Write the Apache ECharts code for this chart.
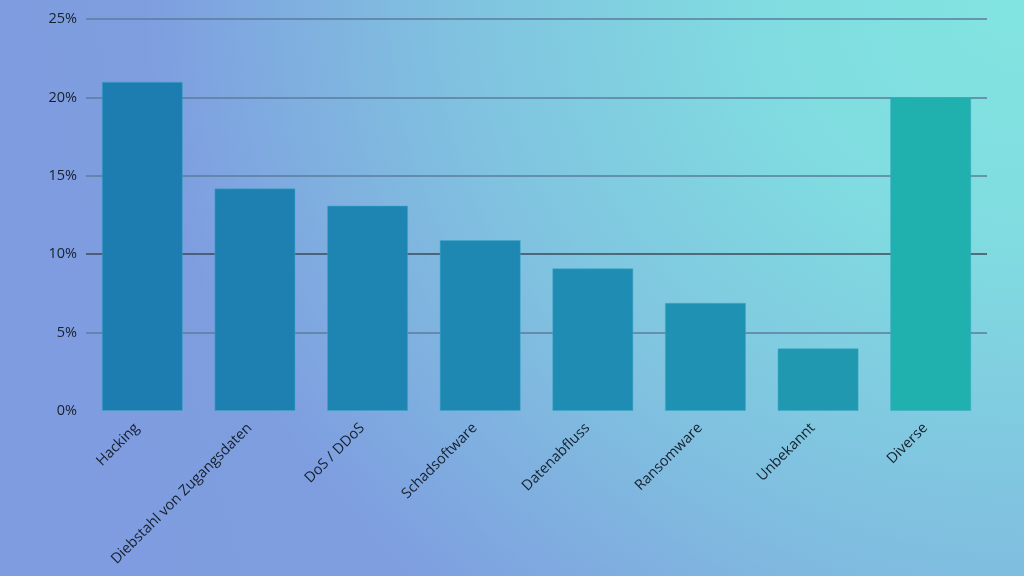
<!DOCTYPE html>
<html>
<head>
<meta charset="utf-8">
<script src="https://cdn.jsdelivr.net/npm/echarts@6/dist/echarts.min.js"></script>
<style>
  html, body { margin: 0; padding: 0; }
  body {
    width: 1024px; height: 576px; overflow: hidden;
    background:
      radial-gradient(ellipse 880px 800px at 100% 0%, #82e4e0 0%, #80dce0 30%, #80c4e0 62%, rgba(127,160,223,0) 100%),
      linear-gradient(75deg, #7e9cdf 0%, #7f9fdf 55%, #80b0e0 100%);
  }
  #chart { width: 1024px; height: 576px; }
</style>
</head>
<body>
<div id="chart"></div>
<script>
// Datenpanne nach Ursache (Anteil in %)
var kategorien = ['Hacking', 'Diebstahl von Zugangsdaten', 'DoS / DDoS', 'Schadsoftware',
                  'Datenabfluss', 'Ransomware', 'Unbekannt', 'Diverse'];
var anteile = [21, 14.2, 13.1, 10.9, 9.1, 6.9, 4, 20];
var yTicks = [0, 5, 10, 15, 20, 25];

// Farben der Balken (von blau nach türkis)
var balkenFarben = ['#1e7db0', '#1e80b0', '#1e84b2', '#1e88b3', '#1f8cb3', '#1f91b2', '#1f98b0', '#20b0ae'];
// Farben der Gitterlinien (5, 10, 15, 20, 25)
var linienFarben = ['#5b7c9c', '#3d4a58', '#5b7c9c', '#5b7c9c', '#5b7c9c'];

var chart = echarts.init(document.getElementById('chart'));

var option = {
    backgroundColor: 'transparent',
    animation: false,
    textStyle: { fontFamily: 'Open Sans' },
    grid: {
        left: 86,
        right: 37,
        top: 19,
        bottom: 165,
        containLabel: false
    },
    xAxis: {
        type: 'category',
        data: kategorien,
        axisLine: { show: false },
        axisTick: { show: false },
        axisLabel: {
            rotate: 45,
            interval: 0,
            margin: 20,
            verticalAlign: 'bottom',
            color: '#16202c',
            fontSize: 14.5
        }
    },
    yAxis: {
        type: 'value',
        min: yTicks[0],
        max: yTicks[yTicks.length - 1],
        interval: 5,
        axisLine: { show: false },
        axisTick: { show: false },
        axisLabel: {
            margin: 9,
            color: '#16202c',
            fontSize: 14.5,
            formatter: function (v) { return v + '%'; }
        },
        splitLine: {
            show: true,
            showMinLine: false,
            lineStyle: {
                color: linienFarben,
                width: 1.5
            }
        }
    },
    series: [{
        type: 'bar',
        data: anteile,
        barCategoryGap: '28%',
        itemStyle: {
            color: function (p) { return balkenFarben[p.dataIndex]; },
            borderColor: 'rgba(60,170,200,0.5)',
            borderWidth: 1
        }
    }]
};

chart.setOption(option);
</script>
</body>
</html>
